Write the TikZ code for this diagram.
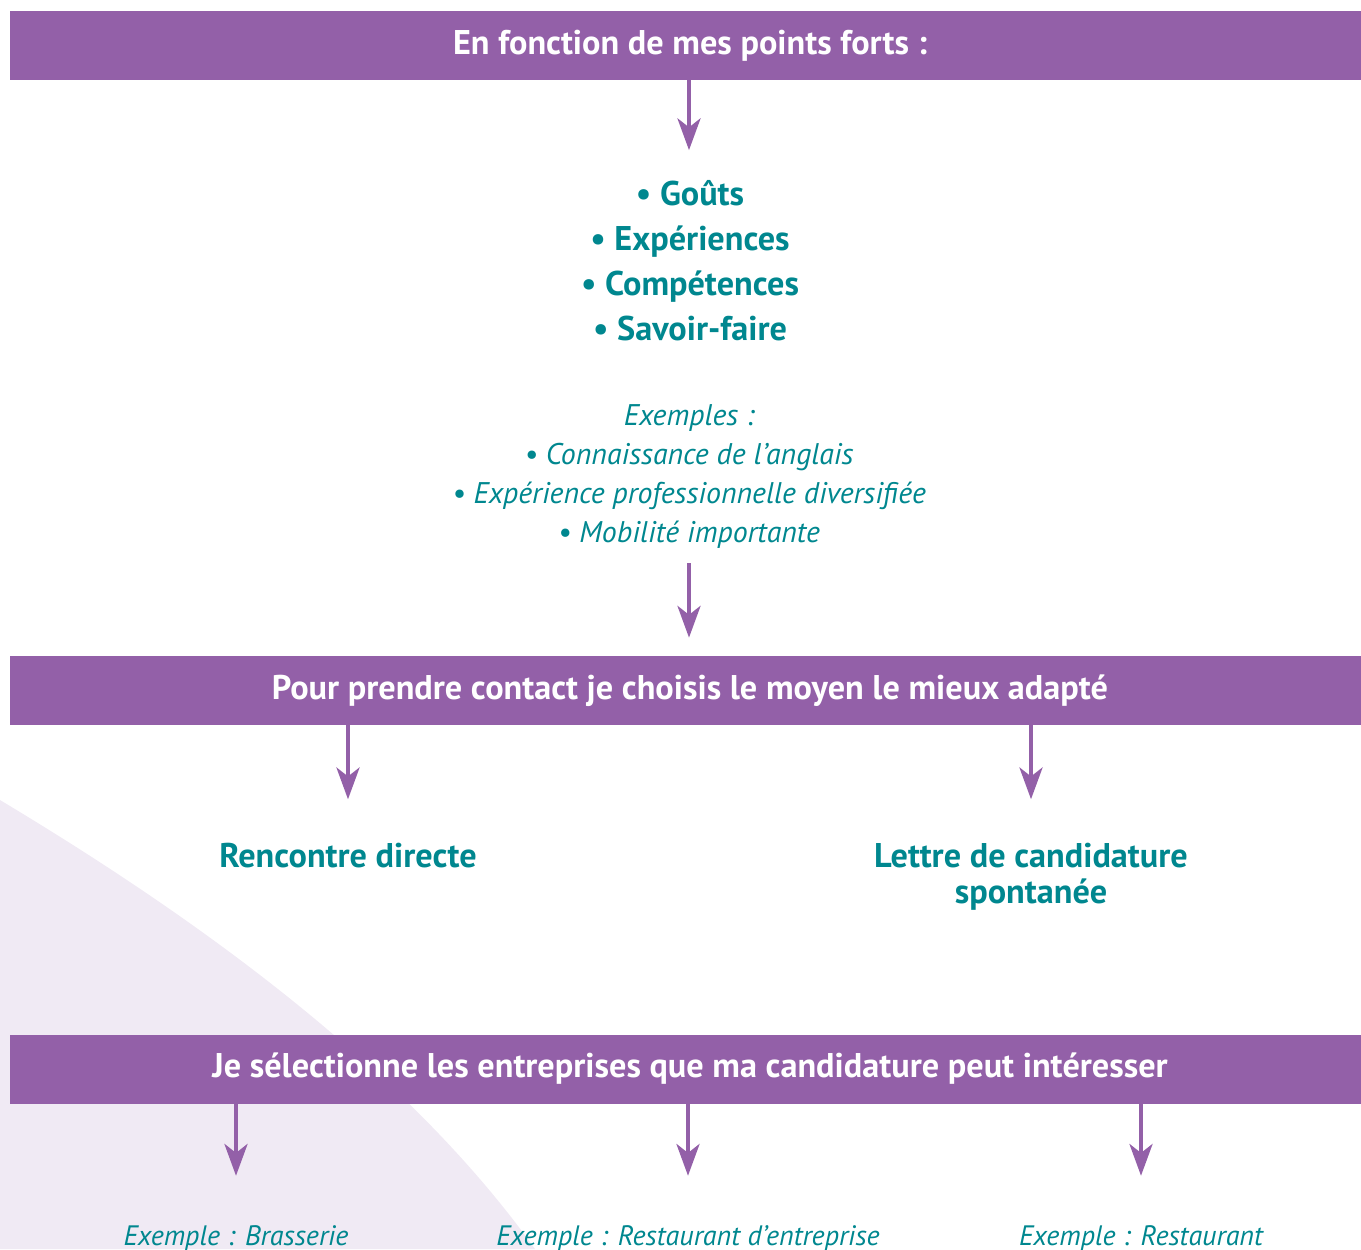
\documentclass[tikz,border=0pt]{standalone}
\usepackage{fontspec}
\setmainfont{PT Sans}
\usetikzlibrary{arrows.meta}
\definecolor{barpurple}{RGB}{147,96,168}
\definecolor{textteal}{RGB}{0,135,143}
\definecolor{lilac}{RGB}{240,234,244}

\begin{document}
\begin{tikzpicture}[x=0.02cm, y=-0.02cm,
	bar/.style={fill=barpurple, text=white, inner sep=0pt, minimum width=27.2cm, minimum height=1.38cm,
		text height=12.5pt, text depth=2.5pt, font=\bfseries\fontsize{19.5}{21}\selectfont},
	bold/.style={text=textteal, inner sep=0pt, align=center, anchor=base, font=\bfseries\fontsize{19.5}{20.5}\selectfont},
	ital/.style={text=textteal, inner sep=0pt, align=center, anchor=base, font=\itshape\fontsize{17}{22.1}\selectfont},
	exline/.style={ital, font=\itshape\fontsize{16}{20}\selectfont},
	arr/.style={draw=barpurple, line width=2.8pt, -{Stealth[length=18pt, width=13pt, inset=5pt]}}]
	\useasboundingbox (0,0) rectangle (1361,1249);
	\clip (0,0) rectangle (1361,1249);
	\fill[lilac] (0,800) .. controls (180,908) and (400,1060) .. (535,1249) -- (0,1249) -- cycle;

	\node[bar] (b1) at (690,45.5) {En fonction de mes points forts :};
	\node[bar] (b2) at (690,690.5) {Pour prendre contact je choisis le moyen le mieux adapté};
	\node[bar] (b3) at (690,1069) {Je sélectionne les entreprises que ma candidature peut intéresser};

	\node[bold, font=\bfseries\fontsize{19.5}{25.5}\selectfont] (pf) at (690,340) {• Goûts\\• Expériences\\• Compétences\\• Savoir-faire};
	\node[ital] (ex) at (689,542) {Exemples :\\• Connaissance de l’anglais\\• Expérience professionnelle diversifiée\\• Mobilité importante};
	\node[bold] (rd) at (348,867) {Rencontre directe};
	\node[bold] (lc) at (1031,903) {Lettre de candidature\\spontanée};
	\node[exline] (e1) at (236,1245) {Exemple : Brasserie};
	\node[exline] (e2) at (688,1245) {Exemple : Restaurant d’entreprise};
	\node[exline] (e3) at (1141,1245) {Exemple : Restaurant};

	\draw[arr, shorten >=0.6cm] (b1.south -| 689,0) -- (pf.north -| 689,0);
	\draw[arr, shorten <=0.3cm, shorten >=0.36cm] (ex.south -| 689,0) -- (b2.north -| 689,0);
	\foreach \n in {rd,lc}
		\draw[arr, shorten >=0.86cm] (b2.south -| \n) -- (\n.north);
	\foreach \n in {e1,e2,e3}
		\draw[arr, shorten >=0.98cm] (b3.south -| \n) -- (\n.north);
\end{tikzpicture}
\end{document}
